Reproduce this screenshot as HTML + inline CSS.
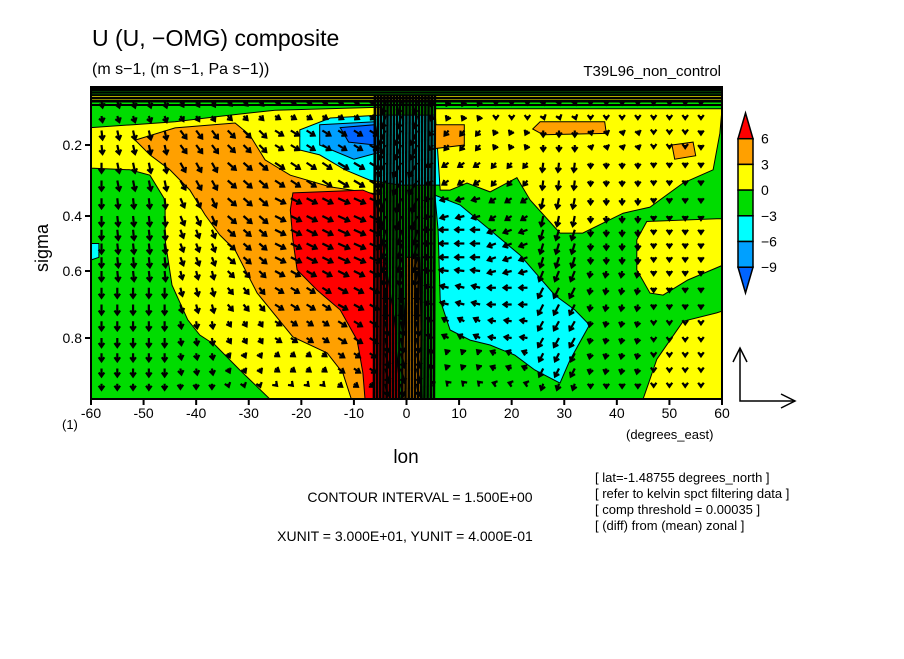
<!DOCTYPE html>
<html><head><meta charset="utf-8"><style>
html,body{margin:0;padding:0;background:#fff;}
svg text{font-family:"Liberation Sans",sans-serif;fill:#000;}
</style></head><body>
<svg id="chart" width="904" height="654" viewBox="0 0 904 654" xmlns="http://www.w3.org/2000/svg">
<rect width="904" height="654" fill="#fff"/>
<text x="92" y="46" font-size="23">U (U, −OMG) composite</text>
<text x="92" y="74" font-size="16">(m s−1, (m s−1, Pa s−1))</text>
<text x="721" y="76" font-size="15" text-anchor="end">T39L96_non_control</text>
<g id="plot"></g>
<text transform="translate(48,248) rotate(-90)" font-size="18" text-anchor="middle">sigma</text>
<text x="406" y="463" font-size="19" text-anchor="middle">lon</text>
<text x="626" y="439" font-size="13">(degrees_east)</text>
<text x="62" y="429" font-size="13">(1)</text>
<text x="420" y="502" font-size="14" text-anchor="middle">CONTOUR INTERVAL = 1.500E+00</text>
<text x="405" y="541" font-size="14" text-anchor="middle">XUNIT = 3.000E+01, YUNIT = 4.000E-01</text>
<g font-size="13">
<text x="595" y="482">[ lat=-1.48755 degrees_north ]</text>
<text x="595" y="498">[ refer to kelvin spct filtering data ]</text>
<text x="595" y="514">[ comp threshold = 0.00035 ]</text>
<text x="595" y="530">[ (diff) from (mean) zonal ]</text>
</g>
<g stroke="#000" stroke-width="1.5" fill="none">
<polyline points="740,348 740,401 795,401"/>
<polyline points="733,362 740,348 747,362"/>
<polyline points="781,394 795,401 781,408"/>
</g>
<g id="cbar"></g>
</svg>
<script>
const NS="http://www.w3.org/2000/svg";
const lonTicks=[-60,-50,-40,-30,-20,-10,0,10,20,30,40,50,60];
const sigTickVals=[0,0.2,0.4,0.6,0.8,1.0];
const sigTickPix=[87,145,216,271,338,399];
const sigLabels=[0.2,0.4,0.6,0.8];
const levels=[6,3,0,-3,-6,-9];
const colors=["#ff0000","#ffa000","#ffff00","#00dc00","#00ffff","#00a0ff","#0064ff"];
const regYellowLeft=[[-60,0.14],[-52,0.13],[-44,0.12],[-35,0.10],[-25,0.08],[-5,0.07],[-5,1.0],[-26,1.0],[-31.7,0.905],[-36.4,0.823],[-39.3,0.791],[-41.6,0.746],[-44.6,0.642],[-45.9,0.487],[-45.9,0.355],[-48.8,0.285],[-52.6,0.27],[-60,0.265]];
const regOrangeLeft=[[-51.6,0.183],[-44,0.141],[-32.6,0.124],[-29.8,0.166],[-26.9,0.242],[-22.1,0.285],[-14.5,0.318],[-7,0.335],[-5,0.34],[-5,1.0],[-10.5,1.0],[-12.1,0.915],[-15.1,0.849],[-21.6,0.797],[-28.4,0.666],[-32.6,0.524],[-35.5,0.469],[-38.3,0.397],[-41.2,0.327],[-45,0.27],[-48.8,0.228]];
const regRed=[[-21.6,0.335],[-8.3,0.327],[-6,0.341],[-4.1,0.56],[-2.2,0.746],[-1.2,1.0],[-7.9,1.0],[-8.3,0.915],[-9.4,0.807],[-12.6,0.716],[-17,0.657],[-20.8,0.596],[-21.6,0.487],[-22.1,0.383]];
const regOrangeCol=[[0,0.55],[2.5,0.55],[3,1],[-1,1]];
const regCyanTop=[[-20.3,0.148],[-14.5,0.107],[-5,0.097],[6.4,0.097],[10.2,0.148],[11.1,0.285],[6.4,0.313],[-1.2,0.313],[-7,0.299],[-11.7,0.27],[-16.5,0.228],[-20.3,0.214]];
const regBlueMid=[[-16.5,0.13],[-6,0.12],[-5,0.22],[-10,0.24],[-16.5,0.2]];
const regBlueDark=[[-12.6,0.14],[-6,0.13],[-6,0.2],[-11,0.19]];
const regYellowRight=[[5.4,0.075],[60,0.075],[59.6,0.159],[58.3,0.27],[52.6,0.307],[46.3,0.375],[41.2,0.392],[33.5,0.462],[29.2,0.462],[23.5,0.355],[21,0.292],[15.9,0.332],[11.5,0.307],[8.3,0.327],[6.4,0.327]];
const regCyanRight=[[5.4,0.341],[10.2,0.369],[15.9,0.451],[21.6,0.542],[28.2,0.672],[32,0.716],[34.8,0.761],[31.1,0.872],[29.2,0.948],[24.4,0.905],[20.6,0.856],[15.9,0.823],[12.1,0.807],[8.3,0.776],[6.4,0.687],[6,0.451]];
const regYellowR1=[[45.7,0.42],[59,0.41],[60,0.41],[60,0.58],[53.5,0.627],[48.8,0.672],[46.3,0.666],[43.8,0.596],[43.8,0.487]];
const regYellowR2=[[47.6,0.87],[52.6,0.75],[59,0.725],[60,0.72],[60,1],[45,1],[46,0.95]];
const regOrangeB1=[[25.4,0.12],[37.7,0.12],[38,0.16],[26,0.165],[24,0.145]];
const regOrangeB2=[[50.5,0.2],[54.5,0.19],[55,0.23],[51,0.24]];
const regOrangeB3=[[5.5,0.13],[11,0.13],[11,0.2],[5.5,0.21]];
const regCyanLeft=[[-60,0.5],[-58.5,0.5],[-58.5,0.55],[-60,0.56]];
const regYellowTop=[[-60,0.03],[60,0.03],[60,0.045],[-60,0.045]];
const fieldLon=[-60,-50,-40,-30,-20,-10,0,10,20,30,40,50,60];
const fieldSig=[0.1,0.2,0.3,0.4,0.5,0.6,0.7,0.8,0.9,1.0];
const vecU=[
[1,2,3,4,5,5,-3,-2,0,1,0,0,0],
[1,2,6,7,8,8,-6,-4,-2,0,1,0,0],
[0,2,5,8,9,10,-8,-6,-4,-1,0,0,0],
[0,1,4,8,10,11,-5,-8,-6,-2,0,0,0],
[0,1,3,7,10,11,-3,-9,-8,-3,0,0,0],
[0,1,2,6,9,10,-2,-9,-8,-4,-1,0,0],
[0,0,2,5,8,9,0,-8,-8,-5,-1,0,0],
[0,0,1,3,6,8,2,-6,-7,-5,-1,0,0],
[0,0,1,2,4,6,3,-3,-5,-4,-1,0,0],
[0,0,0,1,2,4,2,-2,-3,-2,0,0,0]];
const vecW=[
[6,6,5,4,3,3,12,4,3,3,3,3,3],
[9,9,8,7,5,5,14,5,4,6,4,3,4],
[10,10,9,7,6,6,14,4,5,9,5,4,4],
[10,10,9,7,5,5,14,2,4,10,6,4,4],
[10,10,8,6,5,5,14,0,3,10,6,4,4],
[10,10,8,6,5,5,14,-1,2,10,6,4,4],
[10,10,8,6,5,5,14,-2,0,10,6,4,4],
[9,9,7,5,4,5,14,-3,-1,9,5,3,3],
[8,8,6,4,3,4,14,-3,-2,8,5,3,3],
[6,6,5,3,2,3,12,-2,-1,6,4,3,3]];
const topLines=[0.005,0.012,0.02,0.028,0.038,0.05,0.062];

const X0=91,X1=722;
function xs(lon){return X0+(lon+60)/120*(X1-X0);}
function ys(s){for(let i=0;i<sigTickVals.length-1;i++){if(s<=sigTickVals[i+1]){const t=(s-sigTickVals[i])/(sigTickVals[i+1]-sigTickVals[i]);return sigTickPix[i]+t*(sigTickPix[i+1]-sigTickPix[i]);}}return sigTickPix[sigTickPix.length-1];}
const plotG=document.getElementById('plot');
function el(tag,attrs,parent){const e=document.createElementNS(NS,tag);for(const k in attrs)e.setAttribute(k,attrs[k]);(parent||plotG).appendChild(e);return e;}
function poly(pts,fill,name){const e=el('polygon',{points:pts.map(p=>xs(p[0]).toFixed(1)+','+ys(p[1]).toFixed(1)).join(' '),fill:fill,stroke:'#000','stroke-width':1});

}
const bgRect=el('rect',{x:X0,y:87,width:X1-X0,height:312,fill:colors[3]});


poly(regYellowTop,colors[2],'top-yellow-band');
poly(regYellowLeft,colors[2],'yellow-region-west');
poly(regOrangeLeft,colors[1],'orange-region-west');
poly(regRed,colors[0],'red-region');
poly(regOrangeCol,colors[1],'orange-region-center');
poly(regCyanTop,colors[4],'cyan-region-upper');
poly(regBlueMid,colors[5],'blue-region-upper');
poly(regBlueDark,colors[6],'darkblue-region-upper');
poly(regYellowRight,colors[2],'yellow-region-east');
poly(regCyanRight,colors[4],'cyan-region-east');
poly(regYellowR1,colors[2],'yellow-region-east-mid');
poly(regYellowR2,colors[2],'yellow-region-east-low');
poly(regOrangeB1,colors[1],'orange-blob-1');
poly(regOrangeB2,colors[1],'orange-blob-2');
poly(regOrangeB3,colors[1],'orange-blob-3');
poly(regCyanLeft,colors[4],'cyan-blob-west');
topLines.forEach(s=>{const l=el('line',{x1:X0,x2:X1,y1:ys(s),y2:ys(s),stroke:'#000','stroke-width':2});

});
for(let lon=-58;lon<=58;lon+=3){for(let s=0.05;s<0.99;s+=0.05){
 const ci=Math.round((lon+60)/10);let ri=Math.round(s*10)-1;if(ri<0)ri=0;if(ri>9)ri=9;
 const u=vecU[ri][ci],w=vecW[ri][ci];const x=xs(lon),y=ys(s);const len=Math.hypot(u,w)||1;
 const x2=x+u,y2=y+w;const ux=u/len,uy=w/len;
 const g=el('g',{stroke:'#000','stroke-width':2.2,fill:'none'});
 
 
 el('line',{x1:x,y1:y,x2:x2,y2:y2},g);
 const h=4;
 el('polyline',{points:`${x2-h*ux-h*0.7*uy},${y2-h*uy+h*0.7*ux} ${x2},${y2} ${x2-h*ux+h*0.7*uy},${y2-h*uy-h*0.7*ux}`},g);
}}
for(let lon=-6;lon<=5.5;lon+=0.6){const l=el('line',{x1:xs(lon),x2:xs(lon)+((Math.round(lon*10))%3-1),y1:ys(0.03),y2:ys(1),stroke:'#000','stroke-width':2.6});

}
const fr=el('rect',{x:X0,y:87,width:X1-X0,height:312,fill:'none',stroke:'#000','stroke-width':2});


lonTicks.forEach(v=>{const t=el('line',{x1:xs(v),x2:xs(v),y1:399,y2:405,stroke:'#000','stroke-width':2});


const tx=el('text',{x:xs(v),y:418,'font-size':14,'text-anchor':'middle'});tx.textContent=v;

});
sigLabels.forEach(v=>{const t=el('line',{x1:85,x2:X0,y1:ys(v),y2:ys(v),stroke:'#000','stroke-width':2});


const tx=el('text',{x:82,y:ys(v)+5,'font-size':14,'text-anchor':'end'});tx.textContent=v.toFixed(1);

});
const cbG=document.getElementById('cbar');const cbX=738,cbW=15,cbTop=113,cbH=25.7;
colors.forEach((c,i)=>{const y0=cbTop+i*cbH;let e;
 if(i===0)e=el('polygon',{points:`${cbX+cbW/2},${y0} ${cbX+cbW},${y0+cbH} ${cbX},${y0+cbH}`,fill:c,stroke:'#000','stroke-width':1.5},cbG);
 else if(i===colors.length-1)e=el('polygon',{points:`${cbX},${y0} ${cbX+cbW},${y0} ${cbX+cbW/2},${y0+cbH}`,fill:c,stroke:'#000','stroke-width':1.5},cbG);
 else e=el('rect',{x:cbX,y:y0,width:cbW,height:cbH,fill:c,stroke:'#000','stroke-width':1.5},cbG);
 
 });
levels.forEach((v,i)=>{const t=el('text',{x:761,y:cbTop+(i+1)*cbH+5,'font-size':14},cbG);t.textContent=v<0?'−'+(-v):v;

});
</script>
</body></html>
